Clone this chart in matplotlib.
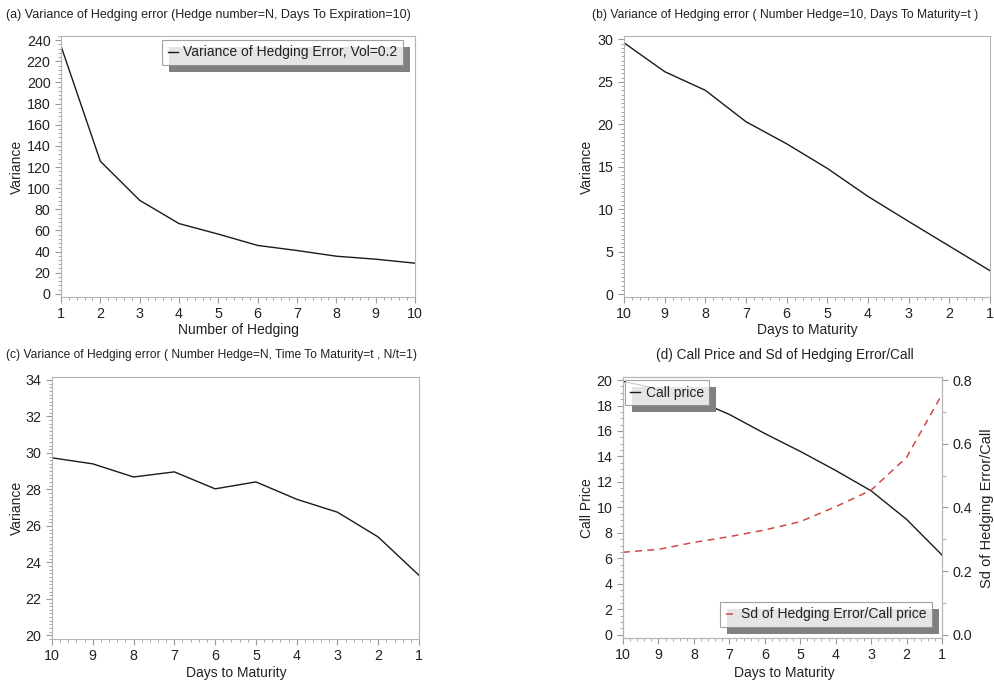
import matplotlib
matplotlib.use("Agg")
import matplotlib.pyplot as plt
import matplotlib.patheffects as pe
from matplotlib.ticker import MultipleLocator

plt.rcParams['font.family'] = ['Liberation Sans', 'DejaVu Sans']

TXT = '#222222'
EDGE = '#b4b4b4'

# (a) variance vs number of hedges, 10 days to expiration
n_hedge = [1, 2, 3, 4, 5, 6, 7, 8, 9, 10]
var_a = [234.5, 125.5, 88.5, 66.5, 56.5, 45.8, 41.0, 35.6, 32.8, 29.0]

# days to maturity, plotted from 10 down to 1
days = [10, 9, 8, 7, 6, 5, 4, 3, 2, 1]
# (b) 10 hedges, t days to maturity
var_b = [29.6, 26.2, 24.0, 20.3, 17.7, 14.8, 11.5, 8.55, 5.65, 2.75]
# (c) N hedges, N/t = 1
var_c = [29.73, 29.40, 28.68, 28.96, 28.03, 28.41, 27.46, 26.75, 25.39, 23.29]
# (d) call price and sd of hedging error / call
call_price = [19.9, 19.3, 18.5, 17.3, 15.8, 14.4, 12.9, 11.3, 9.06, 6.26]
sd_ratio = [0.259, 0.268, 0.290, 0.308, 0.329, 0.355, 0.402, 0.454, 0.557, 0.755]

W, H = 995, 686
LABEL_FS = 10
TICK_FS = 10.3
fig = plt.figure(figsize=(W / 100, H / 100), dpi=100)


def px_axes(left, top, right, bottom):
    return fig.add_axes([left / W, 1 - bottom / H, (right - left) / W, (bottom - top) / H])


def style(ax, ymajor, yminor):
    for s in ax.spines.values():
        s.set_color(EDGE)
    ax.tick_params(which='both', direction='out', color='#999999', labelcolor=TXT, labelsize=TICK_FS)
    ax.tick_params(which='major', length=4)
    ax.tick_params(which='minor', length=2)
    ax.xaxis.set_major_locator(MultipleLocator(1))
    ax.xaxis.set_minor_locator(MultipleLocator(0.2))
    ax.yaxis.set_major_locator(MultipleLocator(ymajor))
    ax.yaxis.set_minor_locator(MultipleLocator(yminor))


def shadow_legend(ax, **kw):
    leg = ax.legend(frameon=True, fancybox=False, borderaxespad=0, fontsize=10,
                    handlelength=0.7, handletextpad=0.4, borderpad=0.4, **kw)
    fr = leg.get_frame()
    fr.set_edgecolor('#8a8a8a')
    fr.set_linewidth(0.8)
    fr.set_facecolor('white')
    fr.set_path_effects([pe.SimplePatchShadow(offset=(5, -5), shadow_rgbFace='#808080', alpha=1),
                         pe.Normal()])
    for t in leg.get_texts():
        t.set_color(TXT)
    return leg


def label(x, y, s, rot=0, fs=LABEL_FS):
    fig.text(x / W, 1 - y / H, s, ha='center', va='center', rotation=rot, fontsize=fs, color=TXT)


# ---- (a) ----
ax_a = px_axes(61, 36, 415, 297)
ax_a.plot(n_hedge, var_a, color='#1a1a1a', lw=1, label='Variance of Hedging Error, Vol=0.2')
ax_a.set_xlim(1, 10)
ax_a.set_ylim(-3, 244)
style(ax_a, 20, 4)
shadow_legend(ax_a, loc='upper right', bbox_to_anchor=(0.966, 0.985))
label(208, 15, '(a) Variance of Hedging error (Hedge number=N, Days To Expiration=10)', fs=9)
label(238, 330, 'Number of Hedging')
label(17, 167, 'Variance', rot=90)

# ---- (b) ----
ax_b = px_axes(624, 36, 990, 297)
ax_b.plot(days, var_b, color='#1a1a1a', lw=1)
ax_b.set_xlim(10, 1)
ax_b.set_ylim(-0.35, 30.4)
style(ax_b, 5, 0.5)
label(785, 15, '(b) Variance of Hedging error ( Number Hedge=10, Days To Maturity=t )', fs=8.75)
label(807, 330, 'Days to Maturity')
label(587, 167, 'Variance', rot=90)

# ---- (c) ----
ax_c = px_axes(52, 377, 419, 639)
ax_c.plot(days, var_c, color='#1a1a1a', lw=1)
ax_c.set_xlim(10, 1)
ax_c.set_ylim(19.8, 34.16)
style(ax_c, 2, 0.2)
label(212, 355, '(c) Variance of Hedging error ( Number Hedge=N, Time To Maturity=t , N/t=1)', fs=8.65)
label(236, 673, 'Days to Maturity')
label(17, 508, 'Variance', rot=90)

# ---- (d) ----
ax_d = px_axes(623, 377, 942, 638)
ax_d.plot(days, call_price, color='#1a1a1a', lw=1, label='Call price')
ax_d.set_xlim(10, 1)
ax_d.set_ylim(-0.26, 20.24)
style(ax_d, 2, 0.5)
shadow_legend(ax_d, loc='upper left', bbox_to_anchor=(0.006, 0.988))

ax_r = ax_d.twinx()
ax_r.plot(days, sd_ratio, color='#d04848', lw=1.1, linestyle=(0, (4.5, 3.5)),
          label='Sd of Hedging Error/Call price')
ax_r.set_ylim(-0.0104, 0.8095)
ax_r.yaxis.set_major_locator(MultipleLocator(0.2))
ax_r.yaxis.set_minor_locator(MultipleLocator(0.1))
ax_r.yaxis.set_major_formatter(matplotlib.ticker.FormatStrFormatter('%.1f'))
for s in ax_r.spines.values():
    s.set_color(EDGE)
ax_r.tick_params(which='both', direction='out', color='#999999', labelcolor=TXT, labelsize=TICK_FS)
ax_r.tick_params(which='major', length=4)
ax_r.tick_params(which='minor', length=3)
shadow_legend(ax_r, loc='lower right', bbox_to_anchor=(0.969, 0.042))

label(785, 355, '(d) Call Price and Sd of Hedging Error/Call', fs=9.8)
label(784, 673, 'Days to Maturity')
label(587, 508, 'Call Price', rot=90)
label(987, 508, 'Sd of Hedging Error/Call', rot=90, fs=10.5)

fig.savefig('out.png', dpi=100, facecolor='white')
